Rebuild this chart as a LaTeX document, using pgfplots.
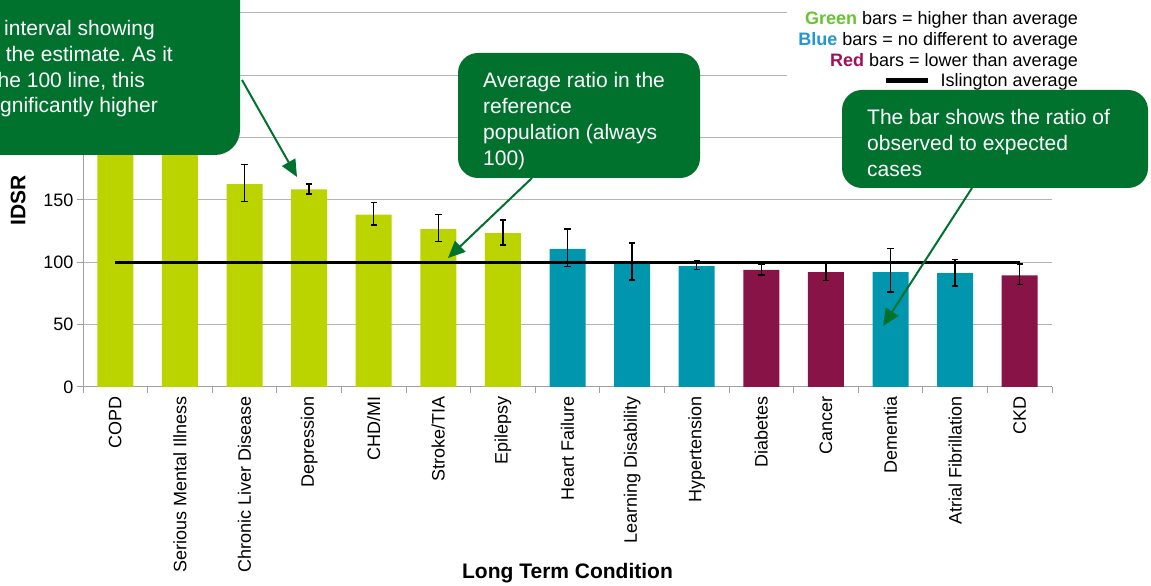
\documentclass[border=0pt]{standalone}
\usepackage{pgfplots}
\pgfplotsset{compat=1.18}
\usepackage{pgfplotstable}
\usepackage{fontspec}
\setmainfont{Liberation Sans}
\usetikzlibrary{arrows.meta}
\definecolor{bargreen}{RGB}{187,212,0}
\definecolor{barblue}{RGB}{0,150,174}
\definecolor{barred}{RGB}{136,19,70}
\definecolor{boxgreen}{RGB}{0,114,46}
\definecolor{lgreen}{RGB}{102,196,50}
\definecolor{lblue}{RGB}{33,152,210}
\definecolor{lred}{RGB}{160,16,90}
\definecolor{gridgray}{RGB}{180,180,180}
\definecolor{axisgray}{RGB}{160,160,160}

\pgfplotstableread{
x y ep em
0 240 9 9
1 215 10 10
2 162.8 15.6 13.8
3 158.6 4.2 3.8
4 138.2 9.7 8.2
5 126.7 11.8 10.1
6 123.5 10.5 9.6
}\greendata
\pgfplotstableread{
x y ep em
7 110.7 16.0 13.9
8 100.0 15.5 14.2
9 97.0 4.0 2.6
12 92.2 18.8 16.0
13 91.4 10.7 10.4
}\bluedata
\pgfplotstableread{
x y ep em
10 93.9 4.8 4.1
11 92.2 7.6 6.9
14 89.6 9.1 7.2
}\reddata

\begin{document}
\frenchspacing
\begin{tikzpicture}
\useasboundingbox (0,0) rectangle (1151pt,586pt);
\clip (0,0) rectangle (1151pt,586pt);
\begin{axis}[
  at={(83pt,199pt)}, anchor=south west,
  width=969pt, height=374pt, scale only axis,
  xmin=-0.5, xmax=14.5, ymin=0, ymax=300,
  axis x line*=bottom, axis y line*=left,
  axis line style={draw=axisgray, line width=1pt, -},
  xtick={0,...,14},
  xticklabels={COPD, Serious Mental Illness, Chronic Liver Disease, Depression, CHD/MI, Stroke/TIA, Epilepsy, Heart Failure, Learning Disability, Hypertension, Diabetes, Cancer, Dementia, Atrial Fibrillation, CKD},
  major x tick style={draw=none},
  minor xtick={-0.5,0.5,...,14.5},
  minor x tick style={draw=axisgray, line width=1pt},
  ytick={0,50,...,300},
  yticklabels={0,50,100,150,{},{},{}},
  major y tick style={draw=axisgray, line width=1pt},
  ymajorgrids, grid style={draw=gridgray, line width=1pt},
  tick align=outside, major tick length=6pt, minor tick length=6pt,
  /pgf/number format/assume math mode=true,
  ticklabel style={font=\fontsize{18}{20}\selectfont, text=black},
  xticklabel style={rotate=90, anchor=east},
  ylabel={\textbf{IDSR}},
  xlabel={\textbf{Long Term Condition}},
  label style={font=\fontsize{21}{24}\selectfont},
  ylabel style={at={(axis description cs:-0.067,0.5)}, anchor=center, rotate=0},
  xlabel style={at={(axis description cs:0.5,-0.497)}, anchor=center},
]
\pgfplotsset{
  every ebar/.style={
    ybar, bar width=36pt, bar shift=0pt, draw=none,
    error bars/y dir=both, error bars/y explicit,
    error bars/error mark=|,
    error bars/error bar style={draw=black, line width=1.3pt, solid},
    error bars/error mark options={draw=black, mark size=3.2pt, line width=1.3pt, solid},
  },
}
\addplot[fill=bargreen, every ebar]
  table[x=x, y=y, y error plus=ep, y error minus=em] {\greendata};
\addplot[fill=barblue, every ebar]
  table[x=x, y=y, y error plus=ep, y error minus=em] {\bluedata};
\addplot[fill=barred, every ebar]
  table[x=x, y=y, y error plus=ep, y error minus=em] {\reddata};
\addplot[black, line width=3.5pt, mark=none] coordinates {(0,100) (14,100)};
\end{axis}

% legend block
\fill[white] (787pt,494pt) rectangle (1095pt,586pt);
\begin{scope}[every node/.style={anchor=base east, inner sep=0pt, font=\fontsize{18}{20}\selectfont}]
\node at (1078pt,561pt) {\textcolor{lgreen}{\textbf{Green}} bars = higher than average};
\node at (1078pt,540pt) {\textcolor{lblue}{\textbf{Blue}} bars = no different to average};
\node at (1078pt,519pt) {\textcolor{lred}{\textbf{Red}} bars = lower than average};
\node at (1078pt,499pt) {Islington average};
\end{scope}
\draw[black, line width=5pt] (886pt,505pt) -- (928pt,505pt);

% annotation 1
\fill[boxgreen, rounded corners=25pt] (-80pt,431pt) rectangle (240pt,660pt);
\begin{scope}[every node/.style={anchor=base east, inner sep=0pt, text=white, font=\fontsize{21}{26}\selectfont}]
\node at (155pt,550pt) {The confidence interval showing};
\node at (173pt,524pt) {uncertainty around the estimate. As it};
\node at (145pt,498pt) {doesn't cross the 100 line, this};
\node at (158pt,473pt) {is significantly higher};
\end{scope}
\draw[boxgreen, line width=2pt, -{Triangle[length=17pt,width=15pt]}] (242pt,506pt) -- (297pt,409pt);

% annotation 2
\fill[boxgreen, rounded corners=20pt] (458pt,408pt) rectangle (700pt,533pt);
\begin{scope}[every node/.style={anchor=base west, inner sep=0pt, text=white, font=\fontsize{21}{26}\selectfont}]
\node at (483pt,498pt) {Average ratio in the};
\node at (483pt,472pt) {reference};
\node at (483pt,446pt) {population (always};
\node at (483pt,420pt) {100)};
\end{scope}
\draw[boxgreen, line width=2pt, -{Triangle[length=17pt,width=15pt]}] (532pt,408pt) -- (448pt,328pt);

% annotation 3
\fill[boxgreen, rounded corners=20pt] (842pt,398pt) rectangle (1148pt,496pt);
\begin{scope}[every node/.style={anchor=base west, inner sep=0pt, text=white, font=\fontsize{21}{26}\selectfont}]
\node at (867pt,461pt) {The bar shows the ratio of};
\node at (867pt,435pt) {observed to expected};
\node at (867pt,409pt) {cases};
\end{scope}
\draw[boxgreen, line width=2pt, -{Triangle[length=17pt,width=15pt]}] (972pt,398pt) -- (883pt,260pt);
\end{tikzpicture}
\end{document}
